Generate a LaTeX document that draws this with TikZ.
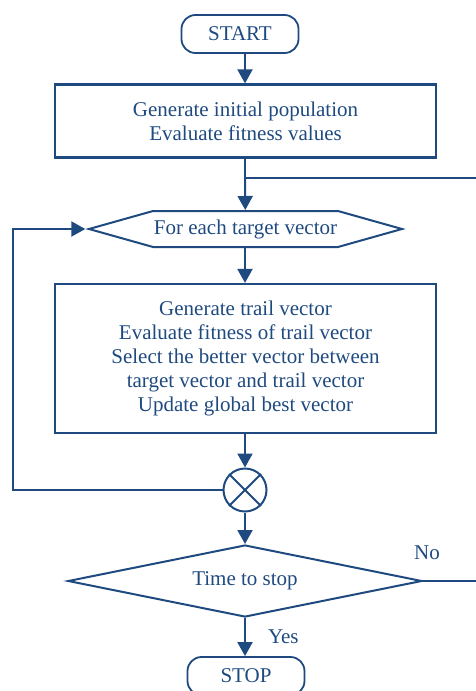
\documentclass[tikz,border=0pt]{standalone}
\usepackage{fontspec}
\setmainfont{Liberation Serif}
\usetikzlibrary{arrows.meta}
\usetikzlibrary{shapes.geometric}
\usetikzlibrary{shapes.symbols}
\usetikzlibrary{positioning}
\definecolor{navy}{RGB}{31,74,128}
\tikzset{term/.style={rectangle,rounded corners=14pt,draw=navy,line width=1.8pt,minimum width=117pt,minimum height=38pt,inner sep=0pt,text=navy}}
\tikzset{proc/.style={rectangle,draw=navy,line width=2.2pt,minimum width=381pt,inner sep=0pt,text=navy,align=center}}
\tikzset{loopbox/.style={signal,signal to=east and west,signal pointer angle=31.4,draw=navy,line width=2pt,minimum width=313pt,minimum height=36pt,inner sep=0pt,text=navy}}
\tikzset{ask/.style={diamond,aspect=4.9,draw=navy,line width=2pt,minimum width=354pt,minimum height=72pt,inner sep=0pt,text=navy}}
\tikzset{junc/.style={circle,draw=navy,line width=2pt,minimum size=43pt,inner sep=0pt}}
\tikzset{flow/.style={draw=navy,line width=2pt,-{Triangle[width=15pt,length=14pt]}}}
\tikzset{wire/.style={draw=navy,line width=2pt}}
\tikzset{lbl/.style={text=navy,inner sep=0pt}}

\begin{document}
\begin{tikzpicture}[x=1pt,y=-1pt,font=\fontsize{21}{24}\selectfont]
\useasboundingbox (0,0) rectangle (476,691);

\node[term] (start) at (240,34) {START};
\node[proc,minimum height=73pt] (init) at (245.5,121) {Generate initial population\\Evaluate fitness values};
\coordinate (split) at (245,178);
\coordinate (right1) at (476,178);
\node[loopbox] (each) at (245.5,229) {For each target vector};
\node[proc,minimum height=149pt] (upd) at (245.5,358.5) {Generate trail vector\\Evaluate fitness of trail vector\\Select the better vector between\\target vector and trail vector\\Update global best vector};
\node[junc] (join) at (245,490) {};
\coordinate (loop) at (13,490);
\node[ask] (stopq) at (245,581) {Time to stop};
\coordinate (right2) at (476,581);
\node[term] (stop) at (246,676) {STOP};

\draw[wire] (join.45) -- (join.225);
\draw[wire] (join.135) -- (join.-45);

\draw[flow] (start.south -| split) -- (init.north -| split);
\draw[wire] (init.south -| split) -- (split);
\draw[flow] (split) -- (each);
\draw[wire] (split) -- (right1);
\draw[flow] (each.south -| split) -- (upd.north -| split);
\draw[flow] (upd.south -| join) -- (join);
\draw[flow] (join) -- (stopq);
\draw[flow] (join) -- (loop) |- (each.west);
\draw[flow] (stopq.south) -- node[lbl,right=22pt] {Yes} (stop.north -| stopq);
\draw[wire] (stopq.east) -- (right2);
\node[lbl] (no) at (427,553) {No};
\end{tikzpicture}
\end{document}
